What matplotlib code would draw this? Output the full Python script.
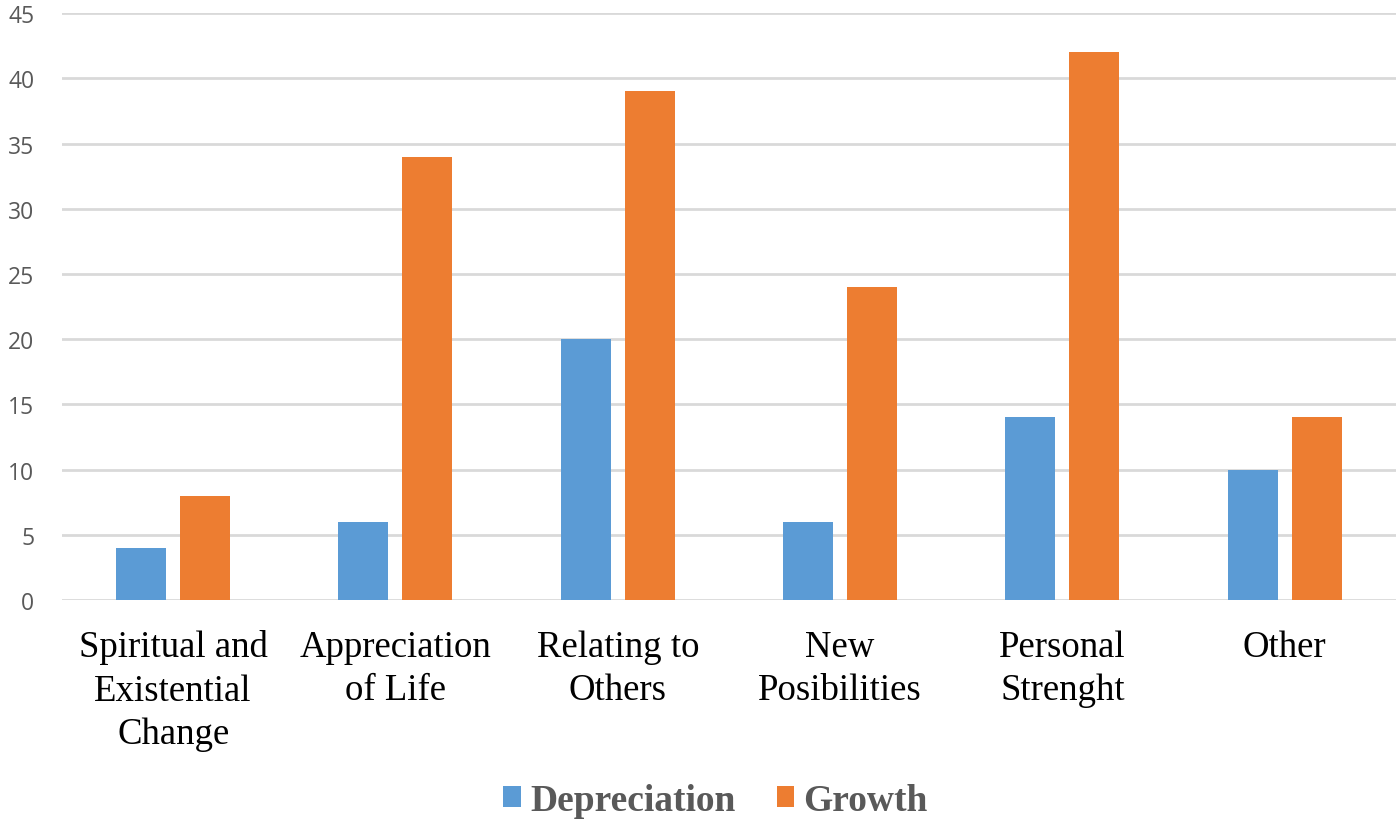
import matplotlib
matplotlib.use("Agg")
import matplotlib.pyplot as plt
import numpy as np

categories = ["Spiritual and\nExistential\nChange", "Appreciation\nof Life", "Relating to\nOthers",
              "New\nPosibilities", "Personal\nStrenght", "Other"]
depreciation = [4, 6, 20, 6, 14, 10]
growth = [8, 34, 39, 24, 42, 14]
yticks = [0, 5, 10, 15, 20, 25, 30, 35, 40, 45]

fig = plt.figure(figsize=(14, 8.28), dpi=100)
ax = fig.add_axes([0.0443, 0.274, 0.9527, 0.709])
x = np.arange(len(categories))
w = 0.225
off = 0.144
ax.bar(x - off, depreciation, w, color="#5B9BD5", label="Depreciation", zorder=3)
ax.bar(x + off, growth, w, color="#ED7D31", label="Growth", zorder=3)

ax.set_xlim(-0.5, len(categories) - 0.5)
ax.set_ylim(0, 45)
ax.set_yticks(yticks)
ax.yaxis.grid(True, color="#D9D9D9", linewidth=2, zorder=0)
for s in ax.spines.values():
    s.set_visible(False)
ax.tick_params(axis="y", length=0, pad=20, labelsize=16.5, labelcolor="#595959")
for lbl in ax.get_yticklabels():
    lbl.set_family("Open Sans")
ax.set_xticks(x)
ax.set_xticklabels(categories, family="Liberation Serif", fontsize=26.5, color="black", linespacing=1.33)
ax.tick_params(axis="x", length=0, pad=21)

leg = fig.legend(loc="center", bbox_to_anchor=(0.511, 0.032), ncol=2, frameon=False,
                 prop={"family": "Liberation Serif", "weight": "bold", "size": 27},
                 handlelength=0.46, handleheight=0.46, handletextpad=0.25, columnspacing=1.1)
for t in leg.get_texts():
    t.set_color("#595959")

fig.savefig("out.png", dpi=100)
